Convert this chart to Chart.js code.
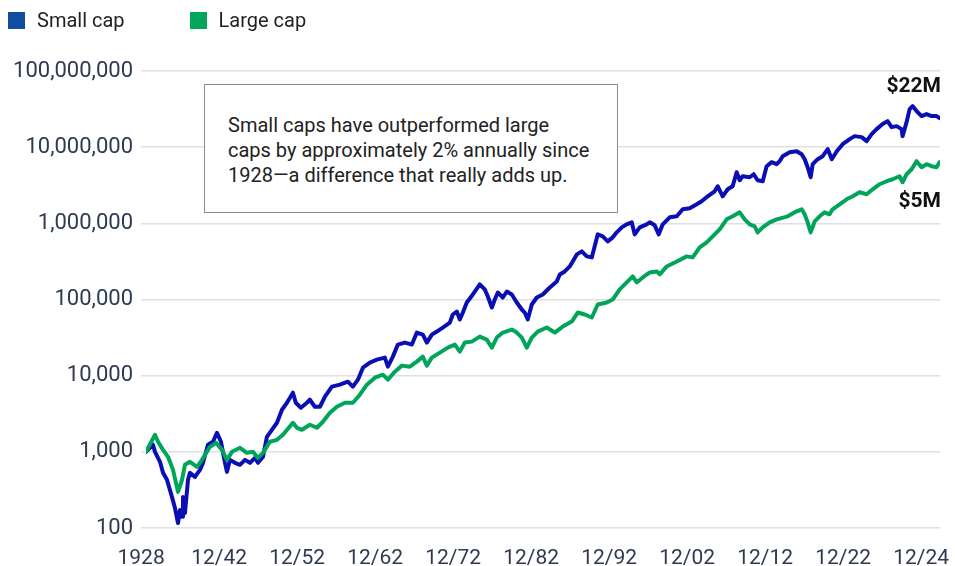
<!DOCTYPE html>
<html>
<head>
<meta charset="utf-8">
<script src="https://cdn.jsdelivr.net/npm/chart.js"></script>
<style>
  body { margin: 0; background: #fff; font-family: Roboto, "Noto Sans", sans-serif; }
  #wrap { position: relative; width: 955px; height: 566px; }
  .legend { position: absolute; top: 8px; left: 8px; display: flex; align-items: center; font-size: 20px; color: #222; }
  .legend span.box { display: inline-block; width: 17px; height: 17px; margin-right: 12px; }
  .legend .item { display: flex; align-items: center; margin-right: 65px; }
  #note {
    position: absolute; left: 204px; top: 84px; width: 414px; height: 129px;
    box-sizing: border-box; border: 1.5px solid #8c8c8c; background: #fff;
    padding: 28px 0 0 23px; font-size: 20px; line-height: 25px; color: #222;
  }
</style>
</head>
<body>
<div id="wrap">
  <canvas id="growth"></canvas>
  <div class="legend">
    <div class="item"><span class="box" style="background:#104ca0"></span>Small cap</div>
    <div class="item"><span class="box" style="background:#00a65a"></span>Large cap</div>
  </div>
  <div id="note">Small caps have outperformed large<br>caps by approximately 2% annually since<br>1928—a difference that really adds up.</div>
</div>
<script>
// growth of $1,000 since 1928 (log scale)
const smallDates = [1928.00, 1928.85, 1929.10, 1929.71, 1930.08, 1930.56, 1931.17, 1931.54, 1931.91, 1932.15, 1932.40, 1932.52, 1932.76, 1933.13, 1933.37, 1933.98, 1934.59, 1934.96, 1935.57, 1936.18, 1936.67, 1937.16, 1937.65, 1937.89, 1938.26, 1938.87, 1939.48, 1940.09, 1940.70, 1941.31, 1941.68, 1942.29, 1942.77, 1943.38, 1944.00, 1944.61, 1945.22, 1945.95, 1946.30, 1946.92, 1947.66, 1948.02, 1948.63, 1949.25, 1949.86, 1950.71, 1951.69, 1952.66, 1953.27, 1953.89, 1954.50, 1955.35, 1956.21, 1957.18, 1957.55, 1958.16, 1958.77, 1959.62, 1960.48, 1961.09, 1961.82, 1962.31, 1962.92, 1963.53, 1964.26, 1965.12, 1965.48, 1965.97, 1966.34, 1966.71, 1967.19, 1967.93, 1968.78, 1969.39, 1969.76, 1970.25, 1970.61, 1970.98, 1971.59, 1972.08, 1972.69, 1973.30, 1973.91, 1974.27, 1974.64, 1975.13, 1975.74, 1976.47, 1977.33, 1978.18, 1978.55, 1979.16, 1979.77, 1980.63, 1981.24, 1981.85, 1982.46, 1983.19, 1983.80, 1984.41, 1985.02, 1985.51, 1986.12, 1986.73, 1987.34, 1987.70, 1988.32, 1989.17, 1989.54, 1990.15, 1990.64, 1991.13, 1991.98, 1992.84, 1993.57, 1994.42, 1995.28, 1995.89, 1996.62, 1997.47, 1997.84, 1998.45, 1999.06, 1999.67, 2000.16, 2000.53, 2000.89, 2001.75, 2002.24, 2002.72, 2003.34, 2003.82, 2004.43, 2005.05, 2005.41, 2005.78, 2006.64, 2007.49, 2008.10, 2008.47, 2008.83, 2009.20, 2009.45, 2010.06, 2010.67, 2011.29, 2011.78, 2012.39, 2013.11, 2013.97, 2014.57, 2015.43, 2016.04, 2016.65, 2017.26, 2017.99, 2018.60, 2019.09, 2019.70, 2020.31, 2020.43, 2020.92, 2021.29, 2021.65, 2022.14, 2022.75, 2023.36, 2023.97, 2024.58, 2024.95];
const smallCap = [1000, 1240, 1000, 740, 530, 430, 256, 183, 116, 172, 140, 256, 157, 428, 529, 469, 580, 717, 1236, 1355, 1778, 1355, 717, 546, 785, 717, 675, 785, 717, 834, 717, 860, 1575, 1947, 2408, 3570, 4413, 5975, 4413, 3793, 4413, 4830, 3909, 3909, 5293, 7170, 7617, 8340, 7170, 8856, 12740, 14830, 16250, 17260, 13130, 17780, 25590, 27190, 25590, 36800, 34600, 27190, 34600, 37930, 42840, 49770, 63530, 69500, 54580, 67450, 91400, 116400, 157500, 135500, 109500, 78520, 100000, 123700, 106200, 127400, 116400, 91400, 73870, 67450, 54580, 85970, 106200, 116400, 143800, 172600, 213300, 233600, 271800, 390900, 428200, 368100, 357200, 716700, 674500, 579700, 654600, 761700, 885600, 970300, 1031000, 716700, 885600, 970300, 1031000, 941500, 716700, 970300, 1199000, 1236000, 1529000, 1575000, 1778000, 1947000, 2265000, 2637000, 3069000, 2265000, 2800000, 3069000, 4688000, 3681000, 4151000, 4029000, 4413000, 3681000, 3572000, 5623000, 6353000, 5974000, 6546000, 7617000, 8597000, 8856000, 8092000, 6950000, 5458000, 4029000, 5974000, 6950000, 7617000, 9415000, 6950000, 8856000, 10950000, 12740000, 13960000, 13550000, 11990000, 14830000, 17260000, 20090000, 21980000, 18330000, 18880000, 17260000, 13960000, 21330000, 31620000, 34620000, 29780000, 25590000, 27180000, 25590000, 25590000, 24090000];

const largeDates = [1928.00, 1929.10, 1929.47, 1930.08, 1930.69, 1931.30, 1931.91, 1932.40, 1932.76, 1933.37, 1934.23, 1934.84, 1935.81, 1936.55, 1937.28, 1937.89, 1938.50, 1939.48, 1940.33, 1941.06, 1941.68, 1942.29, 1943.14, 1944.00, 1944.73, 1945.95, 1946.44, 1947.05, 1948.02, 1948.88, 1949.61, 1950.47, 1951.32, 1952.30, 1953.27, 1954.13, 1954.98, 1955.96, 1956.94, 1957.55, 1958.40, 1959.26, 1960.23, 1961.09, 1961.82, 1962.31, 1962.92, 1963.90, 1964.87, 1965.73, 1966.34, 1966.95, 1967.80, 1968.78, 1969.63, 1970.25, 1970.86, 1971.59, 1972.69, 1973.30, 1973.91, 1974.52, 1975.13, 1975.86, 1976.96, 1977.94, 1978.91, 1980.01, 1980.75, 1981.60, 1982.46, 1983.19, 1984.29, 1985.02, 1985.87, 1986.73, 1987.46, 1987.95, 1988.68, 1989.54, 1990.39, 1990.76, 1991.61, 1992.84, 1994.06, 1994.79, 1995.64, 1996.50, 1997.23, 1998.08, 1998.94, 1999.67, 2000.53, 2001.14, 2001.75, 2002.36, 2002.72, 2003.34, 2004.19, 2005.05, 2006.39, 2007.49, 2008.10, 2008.47, 2008.83, 2009.20, 2009.69, 2010.30, 2010.90, 2011.51, 2011.88, 2012.74, 2013.59, 2014.33, 2015.18, 2016.04, 2016.77, 2017.62, 2018.48, 2019.21, 2020.06, 2020.43, 2020.92, 2021.53, 2022.14, 2022.75, 2023.36, 2023.97, 2024.58, 2024.95];
const largeCap = [1000, 1675, 1355, 1062, 860, 580, 298, 428, 675, 739, 635, 785, 1164, 1313, 1062, 785, 1000, 1129, 970, 1000, 834, 970, 1355, 1438, 1675, 2408, 2069, 1947, 2266, 2069, 2482, 3260, 3909, 4413, 4413, 5623, 7617, 9415, 10310, 8856, 11290, 13550, 13130, 15290, 17780, 13550, 17260, 20090, 23360, 25590, 20690, 27190, 28000, 32580, 29780, 23360, 31620, 36810, 40290, 36810, 31620, 23360, 31620, 37930, 42840, 36810, 44130, 51350, 67450, 63530, 57970, 85970, 91390, 100000, 135500, 167500, 200900, 167500, 194600, 226500, 233600, 213300, 271800, 316200, 368100, 357200, 483300, 562300, 674500, 834000, 1129000, 1236000, 1396000, 1129000, 970300, 914000, 761700, 885600, 1031000, 1129000, 1236000, 1438000, 1529000, 1313000, 1031000, 761700, 1062000, 1236000, 1396000, 1313000, 1529000, 1778000, 2069000, 2265000, 2559000, 2408000, 2800000, 3260000, 3572000, 3793000, 4151000, 3460000, 4413000, 5135000, 6546000, 5458000, 5974000, 5623000, 5458000, 6353000];

const tickLabels = ['1928', '12/42', '12/52', '12/62', '12/72', '12/82', '12/92', '12/02', '12/12', '12/22', '12/24'];
const yTicks = [100, 1000, 10000, 100000, 1000000, 10000000, 100000000];
const endLabels = ['$22M', '$5M'];

// labels on the original sit evenly spaced along the bottom
const tickAt = tickLabels.map((_, i) => 1927.4 + i * 9.53);

const toPoints = (xs, ys) => xs.map((x, i) => ({ x: x, y: ys[i] }));

const endLabelPlugin = {
    id: 'endLabelPlugin',
    afterDatasetsDraw(chart) {
        const ctx = chart.ctx;
        const shift = [-31, 40]; // above the blue line, below the green one
        ctx.save();
        ctx.font = 'bold 21px Roboto';
        ctx.fillStyle = '#111';
        ctx.textAlign = 'right';
        ctx.textBaseline = 'middle';
        chart.data.datasets.forEach((ds, i) => {
            const pts = chart.getDatasetMeta(i).data;
            const last = pts[pts.length - 1];
            ctx.fillText(endLabels[i], chart.chartArea.right + 1, last.y + shift[i]);
        });
        ctx.restore();
    }
};

new Chart(document.getElementById('growth'), {
    type: 'line',
    data: {
        datasets: [
            { label: 'Small cap', data: toPoints(smallDates, smallCap), borderColor: '#0a0fb5', borderWidth: 4, order: 1 },
            { label: 'Large cap', data: toPoints(largeDates, largeCap), borderColor: '#00a55a', borderWidth: 4, order: 0 }
        ]
    },
    options: {
        responsive: true,
        maintainAspectRatio: false,
        animation: false,
        events: [],
        layout: { padding: { top: 71, right: 15, left: 0, bottom: 0 } },
        elements: { point: { radius: 0 }, line: { tension: 0, borderJoinStyle: 'round', borderCapStyle: 'round' } },
        plugins: { legend: { display: false }, tooltip: { enabled: false } },
        scales: {
            x: {
                type: 'linear',
                min: 1928,
                max: 2025,
                grid: { display: false },
                border: { display: false },
                afterBuildTicks: (scale) => { scale.ticks = tickAt.map(v => ({ value: v })); },
                afterFit: (scale) => {
                    scale.height = 38;
                    // labels may hang past the plot edges, don't shrink the plot for them
                    scale.paddingLeft = 0;
                    scale.paddingRight = 0;
                },
                ticks: {
                    autoSkip: false,
                    maxRotation: 0,
                    padding: 10,
                    color: '#2e3a52',
                    font: { family: 'Roboto', size: 21 },
                    callback: (v, i) => tickLabels[i]
                }
            },
            y: {
                type: 'logarithmic',
                min: 100,
                max: 100000000,
                grid: { color: '#dfe0e6', lineWidth: 1.5, tickLength: 5 },
                border: { display: false },
                afterBuildTicks: (scale) => { scale.ticks = yTicks.map(v => ({ value: v })); },
                afterFit: (scale) => { scale.width = 146; },
                ticks: {
                    padding: 8,
                    color: '#2e3a52',
                    font: { family: 'Roboto', size: 22 },
                    callback: (v) => Number(v).toLocaleString('en-US')
                }
            }
        }
    },
    plugins: [endLabelPlugin]
});
</script>
</body>
</html>
